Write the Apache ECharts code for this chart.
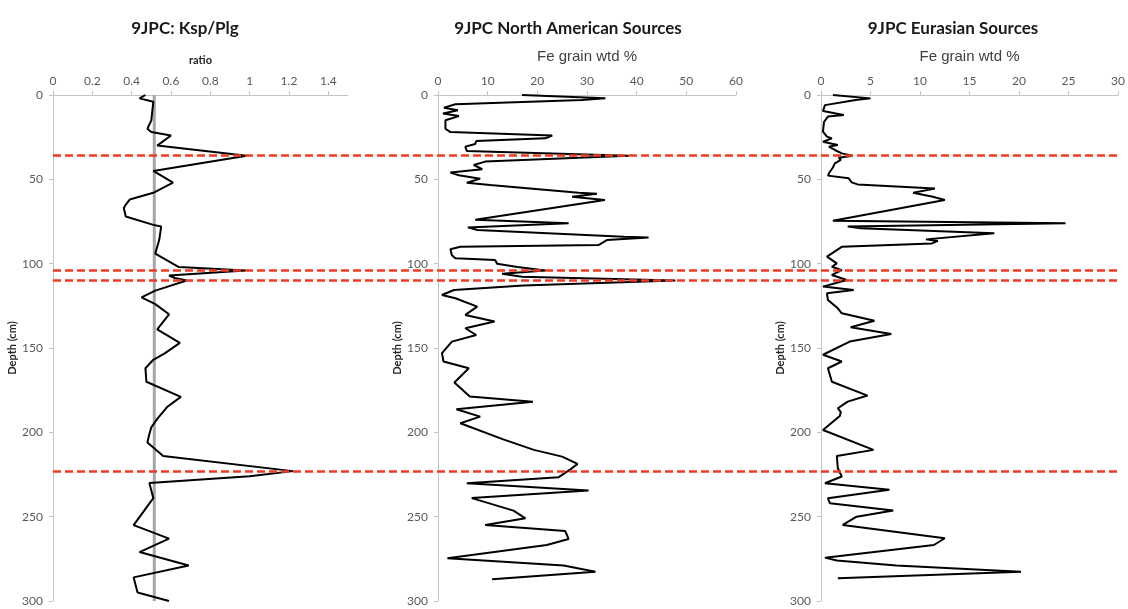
<!DOCTYPE html>
<html>
<head>
<meta charset="utf-8">
<script src="https://cdn.jsdelivr.net/npm/echarts@6/dist/echarts.min.js"></script>
<style>
  html, body { margin: 0; padding: 0; background: #fff; }
  #chart { width: 1128px; height: 609px; }
</style>
</head>
<body>
<div id="chart"></div>
<script>
// Core 9JPC down-core profiles (depth in cm)
const panelTitles = ['9JPC: Ksp/Plg', '9JPC North American Sources', '9JPC Eurasian Sources'];
const axisNames = ['ratio', 'Fe grain wtd %', 'Fe grain wtd %'];
const depthName = 'Depth (cm)';

// K-feldspar / plagioclase ratio
const kspDepth = [0, 2, 4, 15, 20, 22, 24, 30, 36, 45, 52, 58, 62, 63, 65, 67, 72, 77, 78, 86, 94, 102, 104, 107, 108.5, 110, 116, 120, 124, 130, 139, 147, 153, 157, 162, 170, 179, 185, 192, 197, 201, 206, 209, 214, 223, 226, 230, 239, 255, 263, 271, 279, 286, 295, 300];
const kspRatio = [0.47, 0.44, 0.51, 0.50, 0.48, 0.50, 0.60, 0.53, 0.985, 0.51, 0.61, 0.51, 0.39, 0.40, 0.37, 0.36, 0.37, 0.51, 0.55, 0.54, 0.52, 0.64, 0.98, 0.59, 0.62, 0.68, 0.52, 0.45, 0.52, 0.59, 0.53, 0.645, 0.57, 0.51, 0.47, 0.475, 0.65, 0.58, 0.53, 0.50, 0.49, 0.48, 0.51, 0.56, 1.22, 1.0, 0.49, 0.51, 0.41, 0.59, 0.44, 0.69, 0.41, 0.43, 0.59];
const kspMean = 0.515;

// North American source Fe grains
const naDepth = [0, 2, 3, 5.5, 7.5, 9, 11, 12.5, 15, 20, 22, 24, 25.7, 27.3, 29, 30.6, 33.2, 36, 39.5, 41.5, 44, 46, 47.6, 49.6, 52, 53.4, 58, 58.5, 60.3, 62.3, 74, 76, 78.5, 80, 84, 84.5, 86, 89, 90, 91.5, 95, 96.8, 97.8, 100, 102, 104, 106, 107.7, 110, 113, 115.6, 118.6, 120.5, 125.5, 130.4, 134.3, 138.3, 142.3, 146.2, 153, 158, 162, 170.5, 178.8, 181.8, 186.3, 190.7, 194.6, 204, 210.4, 214.4, 218.7, 222.3, 226.6, 230.2, 234.5, 239, 246.4, 251, 254.9, 258.5, 263.2, 266.8, 274.7, 279, 282.6, 287.1];
const naFe = [16.9, 33.7, 29, 3.5, 1.2, 4.0, 1.0, 4.2, 1.5, 1.5, 2.5, 23, 21.6, 7.7, 7.5, 5.5, 5.8, 38.4, 9.5, 7.2, 8.9, 2.5, 4.2, 8.5, 5.8, 10.5, 28.3, 32, 27, 33.6, 7.5, 26.3, 6, 7.9, 37.4, 42.4, 34, 32.3, 4.5, 2.5, 2.8, 3.5, 11.5, 11.9, 16, 21.6, 12.9, 16.9, 47.8, 17.2, 3.2, 0.8, 3.5, 7.9, 5.5, 11.4, 5.5, 7.7, 2.8, 0.8, 1.1, 6.2, 3.3, 6.4, 19.1, 3.7, 8.5, 4.5, 13, 19.3, 25, 28.1, 26.5, 24.3, 5.8, 30.3, 6.8, 15.2, 17.6, 9.5, 25.6, 26.3, 21.9, 1.9, 25.3, 31.7, 10.9];

// Eurasian source Fe grains
const euDepth = [0, 2, 3, 6, 9.5, 11.8, 12.8, 16, 21.7, 24.7, 25.7, 27.7, 29.6, 30.6, 32.6, 34.6, 36, 37.2, 38.5, 40.5, 43, 45.5, 47.8, 49.4, 51.8, 53, 55.5, 58, 60.3, 62.3, 74.5, 76, 78, 79, 82, 85.6, 86.5, 88, 90, 95.8, 99.8, 101.8, 103.8, 106.7, 109.7, 113.6, 115.6, 117.6, 121.5, 126.5, 129.4, 133.8, 137.7, 141.7, 146.2, 154, 158, 162, 170, 178.2, 181.8, 185.7, 188, 190.3, 198.6, 210.4, 214, 221.3, 226.2, 230.2, 234.1, 239.1, 242, 246.4, 250, 254.9, 262.8, 266.8, 274.3, 276, 279, 282.6, 286.5];
const euFe = [1.2, 5.0, 3.5, 0.4, 0.2, 2.3, 0.7, 0.3, 0.2, 0.6, 1.1, 0.2, 1.7, 0.8, 1.4, 2.1, 3.2, 1.8, 2.0, 1.4, 1.2, 0.9, 0.7, 2.8, 3.1, 3.7, 11.5, 9.3, 11.3, 12.5, 1.2, 24.7, 2.7, 4.0, 17.5, 10.6, 11.8, 11.2, 2.1, 0.6, 1.6, 1.1, 2.1, 1.1, 2.6, 0.2, 3.3, 0.6, 0.7, 1.7, 2.1, 5.4, 3.0, 7.1, 2.9, 0.2, 2.1, 0.7, 1.1, 4.7, 2.7, 1.7, 2.0, 1.9, 0.2, 5.3, 1.6, 1.7, 2.1, 0.4, 6.9, 0.7, 0.9, 7.3, 3.6, 2.2, 12.5, 11.4, 0.4, 1.6, 7.6, 20.2, 1.7];

// Depths of the marked events
const eventDepths = [36, 104, 110, 223];

// Axis ranges
const xMax = [1.5, 60, 30];
const xStep = [0.2, 10, 5];
const depthMax = 300;
const depthStep = 50;

const zip = (xs, ys) => ys.map((y, i) => [xs[i], y]);

const labelFont = 'Lato, "Open Sans", sans-serif';
const gridBoxes = [
  { left: 53, top: 95, width: 295, height: 506 },
  { left: 438, top: 95, width: 298, height: 506 },
  { left: 821, top: 95, width: 298, height: 506 }
];
const titleCenters = [180, 563, 948];

const axisLineStyle = { lineStyle: { color: '#c4c4c4', width: 1 } };

const xAxes = [0, 1, 2].map(i => ({
  gridIndex: i,
  type: 'value',
  position: 'top',
  min: 0,
  max: xMax[i],
  interval: xStep[i],
  name: axisNames[i],
  nameLocation: 'middle',
  nameGap: i === 0 ? 29 : 31,
  nameTextStyle: i === 0
    ? { fontFamily: labelFont, fontWeight: 'bold', fontSize: 11, color: '#262626' }
    : { fontFamily: '"Liberation Sans", Arial, sans-serif', fontSize: 15, color: '#404040' },
  splitLine: { show: false },
  axisLine: { show: true, ...axisLineStyle },
  axisTick: { show: true, length: 4, lineStyle: { color: '#c4c4c4' } },
  axisLabel: {
    margin: 8,
    fontFamily: labelFont,
    fontSize: 12,
    color: '#595959',
    showMaxLabel: i === 0 ? false : true
  }
}));

const yAxes = [0, 1, 2].map(i => ({
  gridIndex: i,
  type: 'value',
  inverse: true,
  min: 0,
  max: depthMax,
  interval: depthStep,
  name: depthName,
  nameLocation: 'middle',
  nameGap: 34,
  nameRotate: 90,
  nameTextStyle: { fontFamily: labelFont, fontWeight: 'bold', fontSize: 11, color: '#262626' },
  splitLine: { show: false },
  axisLine: { show: true, ...axisLineStyle },
  axisTick: { show: true, length: 4, lineStyle: { color: '#c4c4c4' } },
  axisLabel: { margin: 10, fontFamily: labelFont, fontSize: 12, color: '#595959' }
}));

// Overlay spanning all three panels for the event markers
xAxes.push({ gridIndex: 3, type: 'value', min: 0, max: 1, show: false });
yAxes.push({ gridIndex: 3, type: 'value', inverse: true, min: 0, max: depthMax, show: false });

const profileLine = { color: '#000', width: 2 };

const option = {
  backgroundColor: '#fff',
  animation: false,
  title: panelTitles.map((t, i) => ({
    text: t,
    left: titleCenters[i],
    textAlign: 'center',
    top: 15,
    textStyle: { fontFamily: labelFont, fontWeight: 'bold', fontSize: 17, color: '#1a1a1a' }
  })),
  grid: [...gridBoxes, { left: 53, top: 95, width: 1064, height: 506 }],
  xAxis: xAxes,
  yAxis: yAxes,
  series: [
    {
      type: 'line', xAxisIndex: 0, yAxisIndex: 0, symbol: 'none', z: 2,
      data: [[kspMean, 0], [kspMean, depthMax]],
      lineStyle: { color: '#a6a6a6', width: 3 }
    },
    {
      type: 'line', xAxisIndex: 0, yAxisIndex: 0, symbol: 'none', z: 3,
      data: zip(kspRatio, kspDepth), lineStyle: profileLine
    },
    {
      type: 'line', xAxisIndex: 1, yAxisIndex: 1, symbol: 'none', z: 3,
      data: zip(naFe, naDepth), lineStyle: profileLine
    },
    {
      type: 'line', xAxisIndex: 2, yAxisIndex: 2, symbol: 'none', z: 3,
      data: zip(euFe, euDepth), lineStyle: profileLine
    },
    {
      type: 'lines', coordinateSystem: 'cartesian2d', xAxisIndex: 3, yAxisIndex: 3, z: 5,
      silent: true,
      data: eventDepths.map(d => ({ coords: [[0, d], [1, d]] })),
      lineStyle: { color: '#f03a22', width: 2.5, type: [8, 4], opacity: 1 }
    }
  ]
};

echarts.init(document.getElementById('chart'), null, { renderer: 'canvas' }).setOption(option);
</script>
</body>
</html>
